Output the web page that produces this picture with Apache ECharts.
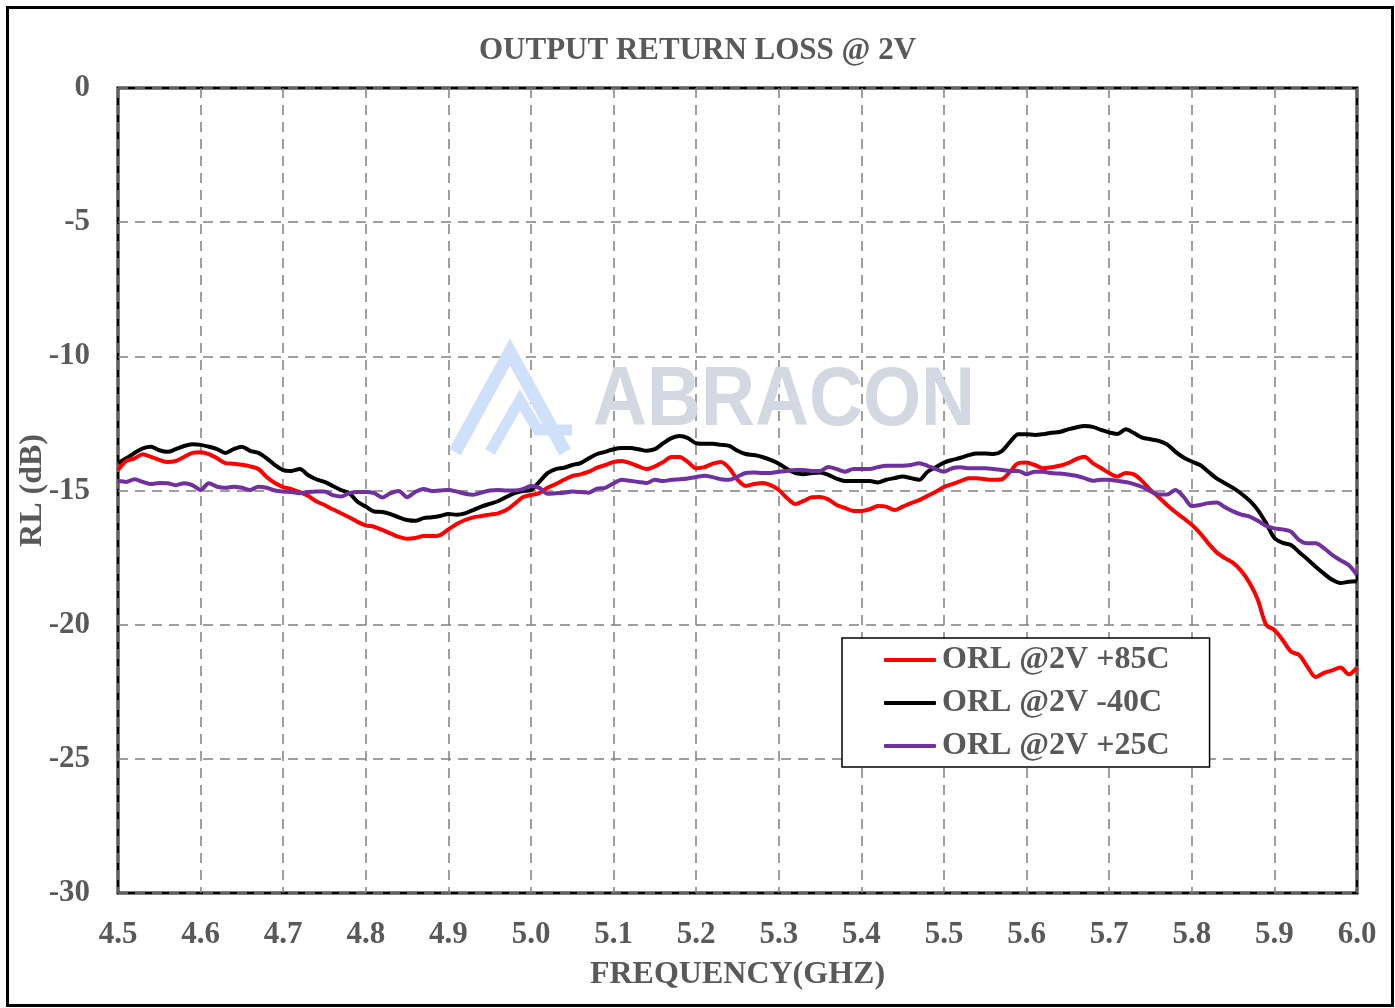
<!DOCTYPE html>
<html>
<head>
<meta charset="utf-8">
<script src="https://cdn.jsdelivr.net/npm/echarts@6/dist/echarts.min.js"></script>
<style>
html,body{margin:0;padding:0;background:#fff;}
#chart{width:1395px;height:1008px;}
</style>
</head>
<body>
<div id="chart"></div>
<script>
// Frequency grid (GHz), 4.50 .. 6.00 step 0.01
const freqStart = 4.5, freqStep = 0.01, freqCount = 151;
const freq = [];
for (let i = 0; i < freqCount; i++) freq.push(+(freqStart + i * freqStep).toFixed(2));

const seriesNames = ['ORL @2V +85C', 'ORL @2V -40C', 'ORL @2V +25C'];

const orl85 = [
-14.24,-13.9,-13.8,-13.65,-13.75,-13.86,-13.94,-13.9,-13.75,-13.6,
-13.57,-13.64,-13.8,-13.98,-14.0,-14.04,-14.1,-14.2,-14.5,-14.72,
-14.87,-14.95,-15.06,-15.2,-15.4,-15.54,-15.7,-15.85,-16.0,-16.17,
-16.3,-16.35,-16.47,-16.6,-16.73,-16.8,-16.77,-16.7,-16.7,-16.66,
-16.45,-16.25,-16.1,-16.0,-15.95,-15.9,-15.85,-15.73,-15.5,-15.25,
-15.17,-15.1,-14.9,-14.76,-14.6,-14.46,-14.4,-14.3,-14.15,-14.05,
-13.94,-13.9,-13.98,-14.1,-14.2,-14.1,-13.94,-13.75,-13.75,-13.94,
-14.17,-14.13,-14.0,-13.94,-14.17,-14.6,-14.83,-14.76,-14.72,-14.8,
-14.98,-15.28,-15.5,-15.39,-15.25,-15.24,-15.33,-15.54,-15.65,-15.76,
-15.76,-15.7,-15.58,-15.6,-15.73,-15.6,-15.47,-15.36,-15.2,-15.05,
-14.87,-14.76,-14.65,-14.54,-14.54,-14.58,-14.6,-14.58,-14.3,-13.98,
-13.96,-14.05,-14.17,-14.13,-14.08,-13.98,-13.83,-13.74,-13.98,-14.16,
-14.35,-14.48,-14.35,-14.4,-14.65,-14.98,-15.25,-15.54,-15.8,-16.03,
-16.28,-16.59,-16.97,-17.3,-17.52,-17.7,-18.0,-18.45,-19.08,-20.0,
-20.2,-20.57,-21.0,-21.13,-21.57,-21.95,-21.8,-21.7,-21.6,-21.85,
-21.6
];

const orlm40 = [
-13.98,-13.8,-13.6,-13.43,-13.37,-13.5,-13.56,-13.46,-13.34,-13.28,
-13.3,-13.37,-13.46,-13.6,-13.46,-13.37,-13.52,-13.6,-13.8,-14.05,
-14.24,-14.27,-14.2,-14.42,-14.58,-14.68,-14.83,-14.98,-15.1,-15.42,
-15.6,-15.78,-15.8,-15.88,-16.0,-16.1,-16.13,-16.03,-16.0,-15.95,
-15.88,-15.9,-15.85,-15.73,-15.6,-15.5,-15.4,-15.24,-15.1,-15.02,
-14.98,-14.68,-14.35,-14.2,-14.15,-14.05,-13.98,-13.8,-13.64,-13.56,
-13.46,-13.42,-13.42,-13.46,-13.52,-13.46,-13.24,-13.05,-12.97,-13.05,
-13.24,-13.26,-13.26,-13.3,-13.34,-13.52,-13.64,-13.68,-13.75,-13.86,
-14.0,-14.2,-14.35,-14.39,-14.35,-14.33,-14.42,-14.56,-14.65,-14.65,
-14.65,-14.65,-14.7,-14.6,-14.54,-14.48,-14.54,-14.6,-14.3,-14.13,
-13.96,-13.86,-13.78,-13.68,-13.62,-13.62,-13.64,-13.53,-13.19,-12.9,
-12.9,-12.93,-12.9,-12.85,-12.82,-12.72,-12.65,-12.6,-12.63,-12.74,
-12.84,-12.89,-12.72,-12.86,-13.03,-13.09,-13.15,-13.28,-13.55,-13.77,
-13.92,-14.05,-14.3,-14.55,-14.73,-14.9,-15.12,-15.38,-15.73,-16.22,
-16.77,-16.95,-17.03,-17.3,-17.56,-17.84,-18.1,-18.33,-18.45,-18.4,
-18.38
];

const orl25 = [
-14.64,-14.68,-14.58,-14.68,-14.76,-14.72,-14.73,-14.8,-14.73,-14.8,
-14.98,-14.73,-14.86,-14.9,-14.86,-14.9,-14.98,-14.86,-14.9,-15.0,
-15.04,-15.06,-15.1,-15.06,-15.04,-15.04,-15.17,-15.22,-15.1,-15.06,
-15.06,-15.1,-15.26,-15.1,-15.02,-15.25,-15.05,-14.94,-15.02,-15.0,
-14.98,-15.04,-15.12,-15.16,-15.08,-15.0,-14.98,-15.0,-15.0,-14.95,
-14.83,-14.9,-15.12,-15.1,-15.08,-15.04,-15.06,-15.08,-14.93,-14.9,
-14.73,-14.6,-14.64,-14.68,-14.72,-14.6,-14.65,-14.6,-14.58,-14.55,
-14.5,-14.45,-14.5,-14.58,-14.6,-14.48,-14.35,-14.33,-14.35,-14.35,
-14.3,-14.27,-14.24,-14.24,-14.27,-14.27,-14.12,-14.2,-14.3,-14.2,
-14.2,-14.2,-14.13,-14.08,-14.08,-14.08,-14.05,-13.98,-14.08,-14.2,
-14.3,-14.17,-14.13,-14.17,-14.17,-14.17,-14.2,-14.24,-14.27,-14.27,
-14.39,-14.3,-14.3,-14.35,-14.37,-14.4,-14.45,-14.54,-14.64,-14.6,
-14.6,-14.64,-14.68,-14.76,-14.87,-15.03,-15.15,-15.15,-14.98,-15.23,
-15.58,-15.54,-15.47,-15.45,-15.62,-15.78,-15.9,-15.97,-16.13,-16.32,
-16.41,-16.45,-16.53,-16.85,-16.97,-16.97,-17.15,-17.4,-17.6,-17.78,
-18.15
];

const yTicks = [0, -5, -10, -15, -20, -25, -30];

const FONT = '"Liberation Serif","Times New Roman",serif';
const GREY = '#595959';
const FS = 31;

function pairs(vals) { return freq.map((f, i) => [f, vals[i]]); }

const chart = echarts.init(document.getElementById('chart'), null, {renderer: 'canvas'});

const option = {
  backgroundColor: '#fff',
  animation: false,
  title: {
    text: 'OUTPUT RETURN LOSS @ 2V',
    left: 'center',
    top: 30,
    textStyle: {fontFamily: FONT, fontWeight: 'bold', fontSize: FS, color: GREY}
  },
  grid: {left: 118, top: 88, right: 38, bottom: 115, show: true, borderColor: '#000', borderWidth: 3,
    backgroundColor: 'transparent', outerBoundsMode: 'none', containLabel: false},
  legend: {
    data: seriesNames,
    orient: 'vertical',
    left: 842,
    top: 638,
    padding: [6, 40, 5, 42],
    itemGap: 11,
    itemWidth: 52,
    itemHeight: 4,
    icon: 'roundRect',
    backgroundColor: '#fff',
    borderColor: '#000',
    borderWidth: 1.5,
    textStyle: {fontFamily: FONT, fontWeight: 'bold', fontSize: 32, color: GREY, padding: [0, 0, 0, 1]}
  },
  xAxis: {
    type: 'value',
    min: 4.5, max: 6.0, interval: 0.1,
    name: 'FREQUENCY(GHZ)',
    nameLocation: 'middle',
    nameGap: 66,
    nameMoveOverlap: false,
    nameTextStyle: {fontFamily: FONT, fontWeight: 'bold', fontSize: 32, color: GREY},
    axisLine: {show: false},
    axisTick: {show: false},
    axisLabel: {fontFamily: FONT, fontWeight: 'bold', fontSize: FS, color: GREY, margin: 26,
      formatter: v => v.toFixed(1)},
    splitLine: {show: true, lineStyle: {color: '#808080', width: 1.5, type: [10, 7]}}
  },
  yAxis: {
    type: 'value',
    min: -30, max: 0, interval: 5,
    name: 'RL (dB)',
    nameLocation: 'middle',
    nameGap: 69,
    nameMoveOverlap: false,
    nameTextStyle: {fontFamily: FONT, fontWeight: 'bold', fontSize: 32, color: GREY},
    axisLine: {show: false},
    axisTick: {show: false},
    axisLabel: {fontFamily: FONT, fontWeight: 'bold', fontSize: FS, color: GREY, margin: 28,
      formatter: v => yTicks.indexOf(v) >= 0 ? String(v) : ''},
    splitLine: {show: true, lineStyle: {color: '#808080', width: 1.5, type: [10, 7]}}
  },
  graphic: [
    {type: 'rect', left: 5, top: 5, shape: {width: 1385, height: 998}, style: {fill: 'none', stroke: '#000', lineWidth: 3}, z: 100},
    {type: 'polyline', shape: {points: [[455, 452], [510, 352], [565, 452]]}, style: {stroke: '#cfe0fb', lineWidth: 13, fill: 'none'}, z: 1},
    {type: 'polyline', shape: {points: [[490, 452], [520, 400], [538, 430], [572, 430]]}, style: {stroke: '#cfe0fb', lineWidth: 11, fill: 'none'}, z: 1},
    {type: 'text', x: 593, y: 360, scaleX: 0.89, style: {text: 'ABRACON', font: 'bold 84px "Liberation Sans", Arial, sans-serif', fill: '#d3d8e2'}, z: 1}
  ],
  series: [
    {name: seriesNames[0], type: 'line', data: pairs(orl85), showSymbol: false, smooth: 0.3, lineStyle: {color: '#ff0000', width: 4}, itemStyle: {color: '#ff0000'}, z: 5},
    {name: seriesNames[1], type: 'line', data: pairs(orlm40), showSymbol: false, smooth: 0.3, lineStyle: {color: '#000000', width: 4}, itemStyle: {color: '#000000'}, z: 4},
    {name: seriesNames[2], type: 'line', data: pairs(orl25), showSymbol: false, smooth: 0.3, lineStyle: {color: '#7030a0', width: 4}, itemStyle: {color: '#7030a0'}, z: 6}
  ]
};
chart.setOption(option);
</script>
</body>
</html>
